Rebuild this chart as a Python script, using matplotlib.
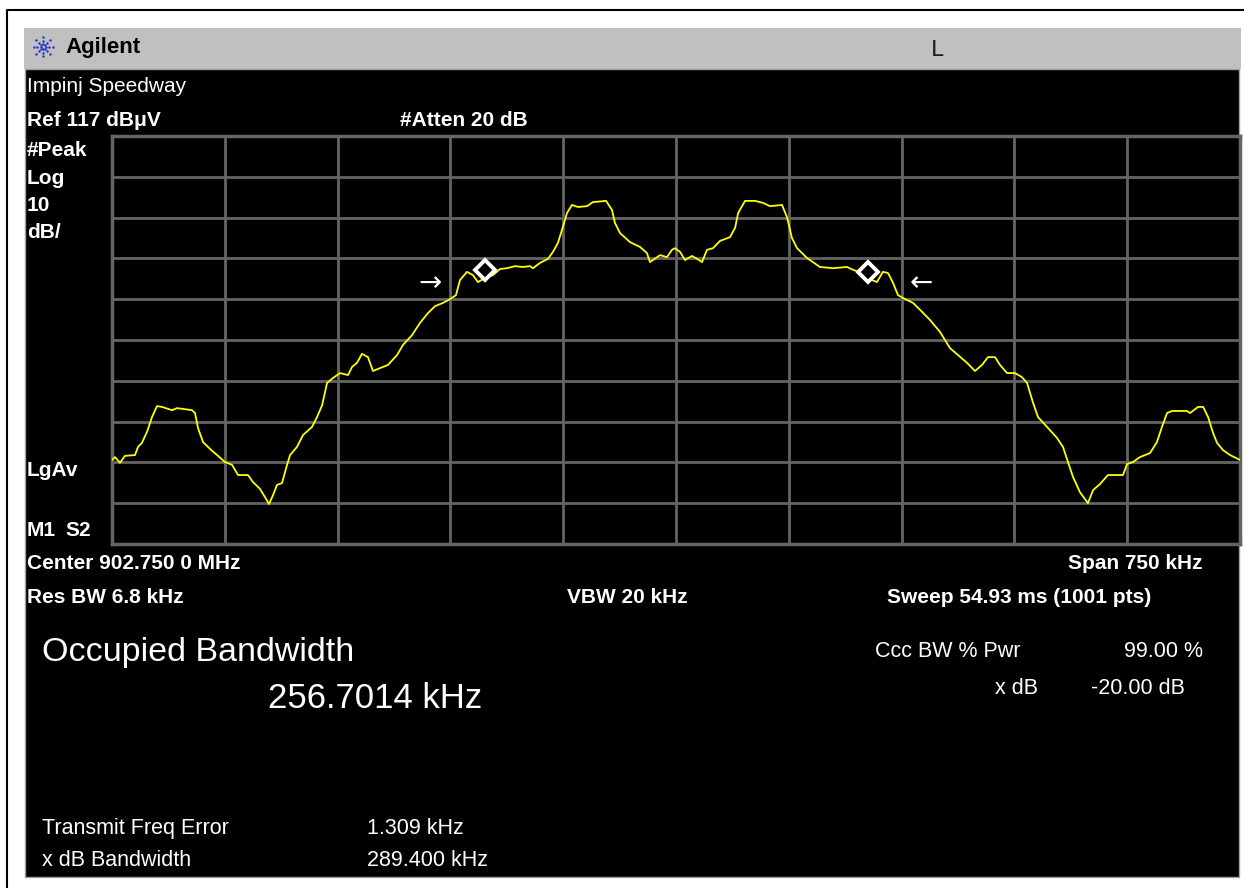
import numpy as np
import matplotlib.pyplot as plt
from matplotlib.patches import Rectangle

plt.rcParams['font.family'] = ['Liberation Sans Narrow', 'Liberation Sans', 'DejaVu Sans']

# Trace: offset from center (kHz) and level (dBuV)
freq_khz = [
    -375.0, -373.0, -369.7, -366.4, -359.7, -357.7, -355.1, -351.7, -348.4, -345.1,
    -341.8, -335.1, -331.8, -327.8, -321.8, -319.8, -317.8, -314.5, -309.8, -305.2,
    -299.9, -295.2, -291.2, -284.6, -281.3, -276.6, -273.3, -270.6, -267.9, -265.3,
    -262.0, -258.6, -256.6, -252.0, -248.0, -242.0, -238.7, -235.3, -232.0, -228.0,
    -223.4, -218.1, -215.4, -212.1, -208.8, -204.8, -201.5, -196.8, -191.5, -185.5,
    -181.5, -175.5, -170.2, -164.9, -160.2, -154.9, -150.3, -146.3, -143.6, -139.0,
    -135.0, -131.7, -127.0, -121.7, -117.0, -112.4, -107.0, -101.7, -97.1, -95.1,
    -90.4, -85.1, -81.8, -78.5, -75.8, -72.5, -69.2, -65.2, -59.2, -55.2,
    -46.5, -42.6, -40.6, -37.2, -30.6, -23.9, -19.3, -17.3, -12.6, -10.6,
    -6.0, -2.7, -0.7, 2.7, 6.0, 10.6, 14.0, 17.3, 20.6, 24.6,
    29.3, 35.9, 39.3, 41.3, 45.9, 52.6, 57.9, 62.5, 70.5, 73.8,
    77.1, 80.5, 87.1, 95.7, 104.4, 113.7, 117.7, 125.7, 130.3, 133.6,
    137.6, 141.0, 144.3, 147.6, 150.9, 157.6, 163.6, 168.9, 175.5, 182.2,
    187.5, 193.5, 198.8, 203.5, 207.4, 212.1, 215.4, 220.1, 225.4, 230.0,
    233.4, 237.4, 240.7, 246.7, 253.3, 257.3, 260.6, 264.0, 268.6, 273.9,
    277.3, 281.9, 287.2, 297.2, 299.9, 303.9, 308.5, 315.2, 319.8, 323.1,
    326.5, 329.8, 339.8, 341.8, 347.1, 350.5, 353.8, 357.1, 359.7, 363.7,
    368.4, 375.0,
]
level_dbuv = [
    37.6, 38.3, 36.9, 38.6, 38.8, 40.8, 41.8, 44.5, 48.1, 50.8,
    50.6, 49.8, 50.3, 50.1, 49.8, 49.1, 45.4, 42.0, 40.3, 38.8,
    37.1, 36.4, 33.9, 33.9, 32.2, 30.5, 28.5, 26.8, 29.0, 31.5,
    31.9, 36.4, 38.8, 40.8, 43.7, 45.7, 48.1, 51.0, 56.5, 57.7,
    58.9, 58.4, 60.4, 61.4, 63.6, 62.8, 59.4, 60.1, 60.9, 63.3,
    65.8, 68.2, 71.2, 73.6, 75.3, 76.1, 77.0, 78.0, 81.7, 83.7,
    82.9, 81.2, 82.2, 82.9, 84.4, 84.6, 85.1, 84.9, 85.1, 84.6,
    85.9, 86.9, 88.6, 90.8, 94.0, 98.1, 100.1, 99.6, 99.8, 100.8,
    101.1, 98.9, 95.7, 93.2, 91.0, 89.8, 88.3, 86.1, 87.3, 87.8,
    87.3, 89.1, 89.5, 88.6, 86.6, 87.6, 86.9, 86.1, 89.1, 89.5,
    91.3, 92.2, 94.5, 98.1, 101.1, 101.1, 100.6, 99.8, 100.1, 97.1,
    92.0, 89.5, 87.1, 84.9, 84.6, 84.9, 84.2, 83.2, 81.7, 81.2,
    83.7, 83.4, 81.0, 78.0, 77.3, 76.1, 73.9, 71.9, 69.0, 65.0,
    63.3, 61.4, 59.4, 60.9, 62.8, 62.8, 60.9, 58.9, 58.9, 57.9,
    56.5, 51.6, 48.1, 45.7, 43.0, 40.8, 37.1, 33.4, 29.7, 27.0,
    30.2, 31.7, 33.9, 33.9, 36.6, 37.1, 38.3, 39.3, 42.0, 45.7,
    49.1, 49.6, 49.6, 49.1, 50.6, 50.6, 48.1, 44.2, 41.8, 40.0,
    38.8, 37.6,
]

# occupied bandwidth markers and x dB bandwidth arrows
marker_khz = [-127.0, 127.5]
marker_dbuv = [84.2, 83.7]
arrow_khz = [-155.6, 155.6]
arrow_dbuv = 81.0

ref_level = 117
db_per_div = 10
span_khz = 750

W, H = 1244, 888
fig = plt.figure(figsize=(W / 100, H / 100), dpi=100, facecolor='white')

# background layer in pixel coordinates
bg = fig.add_axes([0, 0, 1, 1])
bg.set_xlim(0, W)
bg.set_ylim(H, 0)
bg.axis('off')
bg.plot([7, 7, W], [H, 10, 10], color='black', lw=1.5)
bg.add_patch(Rectangle((24, 28), 1217, 41, facecolor='#c0c0c0', edgecolor='none'))
bg.add_patch(Rectangle((25, 69), 1214, 808, facecolor='black', edgecolor='#a0a0a0', lw=1))

# Agilent spark logo
ang = np.linspace(0, 2 * np.pi, 8, endpoint=False)
for r in (2.5, 6, 9.5):
    bg.scatter(43 + r * np.cos(ang), 47 + r * np.sin(ang), s=3, color='#1a2fd0', lw=0)
bg.text(65, 48, 'Agilent', fontsize=16, fontweight='bold', color='black', va='center')
bg.text(937, 50, 'L', fontsize=16, color='#202020', va='center', ha='center', family='DejaVu Sans')

wb = dict(color='white', fontweight='bold', fontsize=15, va='center')
bg.text(27, 86, 'Impinj Speedway', color='white', fontsize=15, va='center')
bg.text(27, 121, 'Ref 117 dBμV', **wb)
bg.text(400, 121, '#Atten 20 dB', **wb)
bg.text(27, 150, '#Peak', **wb)
bg.text(27, 178, 'Log', **wb)
bg.text(27, 205, '10', **wb)
bg.text(27, 232, 'dB/', **wb)
bg.text(27, 470, 'LgAv', **wb)
bg.text(27, 530, 'M1', **wb)
bg.text(65, 530, 'S2', **wb)
bg.text(27, 563, 'Center 902.750 0 MHz', **wb)
bg.text(1202, 563, 'Span 750 kHz', ha='right', **wb)
bg.text(27, 597, 'Res BW 6.8 kHz', **wb)
bg.text(567, 597, 'VBW 20 kHz', **wb)
bg.text(887, 597, 'Sweep 54.93 ms (1001 pts)', **wb)

wn = dict(color='white', va='center')
bg.text(42, 652, 'Occupied Bandwidth', fontsize=24.5, **wn)
bg.text(268, 698, '256.7014 kHz', fontsize=25, **wn)
bg.text(875, 651, 'Ccc BW % Pwr', fontsize=15.5, **wn)
bg.text(1203, 651, '99.00 %', fontsize=15.5, ha='right', **wn)
bg.text(1038, 688, 'x dB', fontsize=15.5, ha='right', **wn)
bg.text(1185, 688, '-20.00 dB', fontsize=15.5, ha='right', **wn)
bg.text(42, 828, 'Transmit Freq Error', fontsize=15.5, **wn)
bg.text(367, 828, '1.309 kHz', fontsize=15.5, **wn)
bg.text(42, 860, 'x dB Bandwidth', fontsize=15.5, **wn)
bg.text(367, 860, '289.400 kHz', fontsize=15.5, **wn)

# graticule
ax = fig.add_axes([112 / W, 1 - 544 / H, (1240 - 112) / W, (544 - 136) / H])
ax.set_facecolor('black')
ax.set_xlim(-span_khz / 2, span_khz / 2)
ax.set_ylim(ref_level - 10 * db_per_div, ref_level)
ax.set_xticks(np.linspace(-span_khz / 2, span_khz / 2, 11))
ax.set_yticks(np.arange(ref_level - 10 * db_per_div, ref_level + 1, db_per_div))
ax.tick_params(length=0, labelbottom=False, labelleft=False)
ax.grid(True, color='#646464', lw=2)
for s in ax.spines.values():
    s.set_color('#646464')
    s.set_linewidth(2.5)

ax.plot(freq_khz, level_dbuv, color='#ffff00', lw=1.3, zorder=3)
ax.plot(marker_khz, marker_dbuv, ls='none', marker='D', ms=10, mfc='black',
        mec='white', mew=2.8, zorder=4)
ax.text(arrow_khz[0], arrow_dbuv, '→', color='white', fontsize=20, ha='right',
        va='center', family='DejaVu Sans')
ax.text(arrow_khz[1], arrow_dbuv, '←', color='white', fontsize=20, ha='left',
        va='center', family='DejaVu Sans')

fig.savefig('out.png', dpi=100, facecolor='white')
